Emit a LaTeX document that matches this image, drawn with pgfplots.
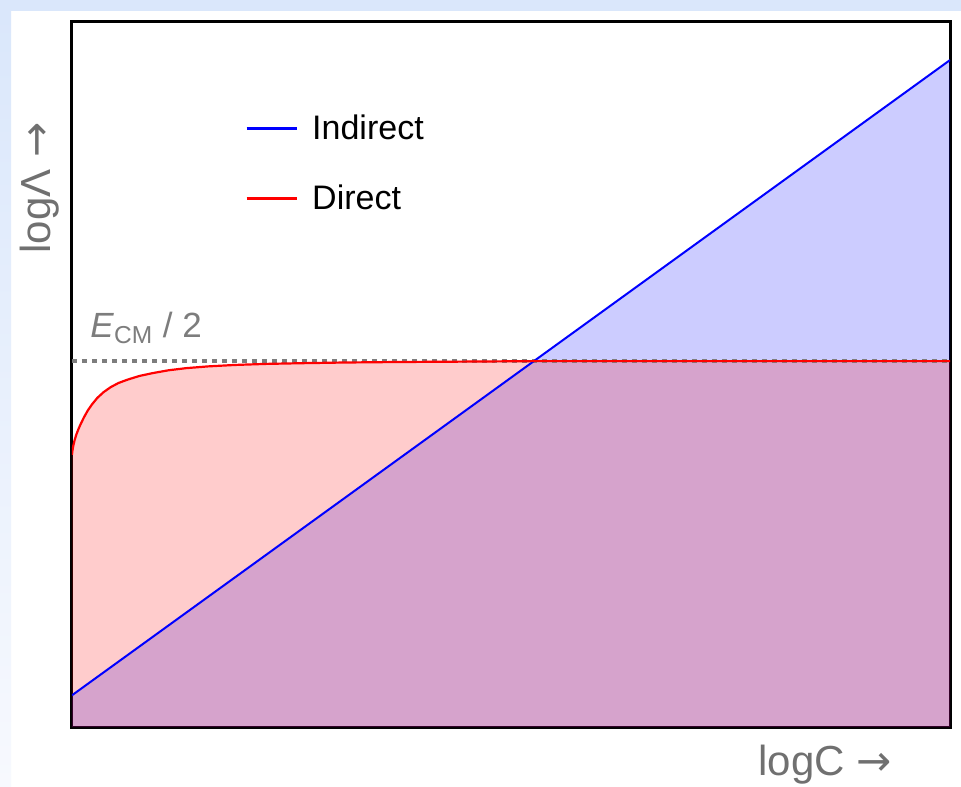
\documentclass[border=0pt]{standalone}
\usepackage{pgfplots}
\pgfplotsset{compat=1.18}
\usepackage{fontspec}
\setmainfont{Liberation Sans}
\newfontfamily\symfont{DejaVu Sans}
\definecolor{slideblue}{RGB}{218,231,251}
\definecolor{slidefade}{RGB}{247,249,254}
\definecolor{labelgray}{RGB}{112,112,112}
\definecolor{refgray}{RGB}{125,125,125}

% direct bound: saturates at E_CM/2
\pgfplotstableread{
x      y
0      0.386
0.0005 0.392
0.0015 0.399
0.003  0.407
0.005  0.415
0.0075 0.423
0.010  0.430
0.0135 0.439
0.018  0.449
0.023  0.458
0.029  0.467
0.036  0.475
0.044  0.482
0.053  0.488
0.064  0.493
0.077  0.498
0.092  0.502
0.110  0.506
0.130  0.509
0.155  0.5115
0.185  0.5135
0.220  0.515
0.260  0.516
0.310  0.517
0.370  0.5177
0.450  0.5183
0.530  0.519
1.000  0.519
}\directtable

% indirect bound: straight line in log-log
\pgfplotstableread{
x   y
0   0.045
1   0.946
}\indirecttable

\begin{document}
\begin{tikzpicture}
% slide background
\fill[white] (-36pt,-29.5pt) rectangle (444.5pt,363.5pt);
\fill[slideblue] (-36pt,358pt) rectangle (444.5pt,363.5pt);
\shade[top color=slideblue, bottom color=slidefade] (-36pt,-29.5pt) rectangle (-30.5pt,358pt);
\begin{axis}[
  at={(0,0)}, anchor=south west,
  scale only axis, width=439pt, height=352.5pt,
  xmin=0, xmax=1, ymin=0, ymax=1,
  xtick=\empty, ytick=\empty,
  axis line style={line width=1.5pt},
  clip mode=individual,
  legend style={draw=none, fill=none,
    at={(rel axis cs:0.19,0.88)}, anchor=north west,
    font=\fontsize{17pt}{20pt}\selectfont,
    row sep=17pt, column sep=5pt, cells={anchor=west}},
  legend image code/.code={\draw[#1, line width=1.5pt] (0pt,0pt) -- (25pt,0pt);},
]
\addplot[draw=none, fill=blue, fill opacity=0.2, forget plot] table[x=x,y=y] {\indirecttable} \closedcycle;
\addplot[draw=none, fill=red, fill opacity=0.2, forget plot] table[x=x,y=y] {\directtable} \closedcycle;
\addplot[refgray, line width=1.7pt, dash pattern=on 2.5pt off 2.5pt, forget plot] coordinates {(0,0.519) (1,0.519)};
\addplot[blue, line width=1pt] table[x=x,y=y] {\indirecttable};
\addlegendentry{Indirect}
\addplot[red, line width=1.1pt, line join=round] table[x=x,y=y] {\directtable};
\addlegendentry{Direct}

\node[labelgray, font=\fontsize{21pt}{25pt}\selectfont, anchor=base] at (rel axis cs:0.8576,-0.0681) {logC {\symfont →}};
\node[labelgray, font=\fontsize{21pt}{25pt}\selectfont, rotate=90, anchor=base] at (rel axis cs:-0.0245,0.7645) {logΛ {\symfont →}};
\node[refgray, font=\fontsize{17.5pt}{20pt}\selectfont, anchor=base west, inner sep=0pt] at (rel axis cs:0.0205,0.5518) {\textit{E}\textsubscript{CM} / 2};
\end{axis}
\pgfresetboundingbox
\useasboundingbox (-36pt,-29.5pt) rectangle (444.5pt,363.5pt);
\end{tikzpicture}
\end{document}
